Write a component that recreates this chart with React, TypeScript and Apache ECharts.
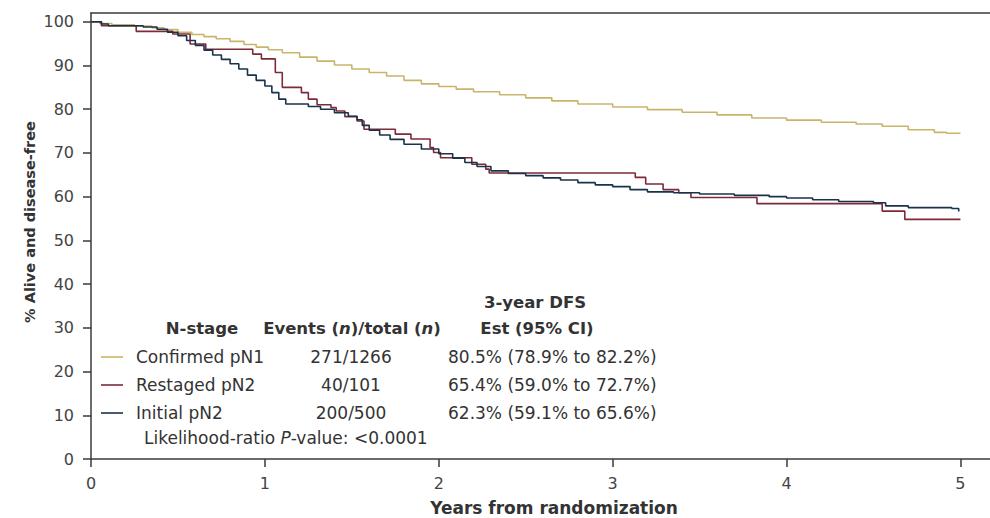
import { useEffect, useRef } from "react";
import * as echarts from "echarts";

// Kaplan–Meier disease-free survival by N-stage (years from randomization, % alive and disease-free)
const yearTicks = [0, 1, 2, 3, 4, 5];
const pctTicks = [0, 10, 20, 30, 40, 50, 60, 70, 80, 90, 100];

const confirmedTimes = [0, 0.05, 0.12, 0.25, 0.35, 0.42, 0.5, 0.58, 0.65, 0.72, 0.8, 0.88, 0.95, 1.02, 1.1, 1.2, 1.3, 1.4, 1.5, 1.6, 1.7, 1.8, 1.9, 2.0, 2.1, 2.2, 2.35, 2.5, 2.65, 2.8, 3.0, 3.2, 3.4, 3.6, 3.8, 4.0, 4.2, 4.4, 4.55, 4.7, 4.85, 4.92, 5.0];
const confirmedSurv = [100, 99.6, 99.3, 99.0, 98.6, 98.2, 97.6, 97.1, 96.6, 96.1, 95.5, 94.8, 94.2, 93.6, 92.9, 91.9, 91.0, 90.1, 89.2, 88.4, 87.6, 86.6, 85.8, 85.2, 84.6, 84.0, 83.3, 82.6, 81.9, 81.2, 80.5, 79.9, 79.3, 78.7, 78.0, 77.5, 77.0, 76.6, 76.1, 75.3, 74.7, 74.5, 74.5];

const restagedTimes = [0, 0.06, 0.26, 0.47, 0.57, 0.66, 0.93, 0.98, 1.06, 1.1, 1.21, 1.25, 1.3, 1.38, 1.41, 1.46, 1.53, 1.57, 1.75, 1.84, 1.95, 1.97, 2.01, 2.19, 2.27, 2.29, 3.13, 3.19, 3.29, 3.38, 3.45, 3.83, 4.55, 4.68, 5.0];
const restagedSurv = [100, 99.1, 97.8, 97.2, 94.9, 93.7, 92.6, 91.5, 88.4, 85.0, 83.8, 82.3, 81.0, 80.4, 79.6, 78.3, 77.3, 75.4, 74.3, 73.2, 71.2, 70.1, 68.9, 67.4, 66.3, 65.4, 64.4, 62.9, 61.6, 60.9, 59.8, 58.4, 56.7, 54.8, 54.8];

const initialTimes = [0, 0.06, 0.1, 0.3, 0.38, 0.44, 0.5, 0.55, 0.6, 0.65, 0.7, 0.75, 0.8, 0.85, 0.9, 0.95, 1.0, 1.04, 1.08, 1.12, 1.25, 1.32, 1.4, 1.48, 1.53, 1.56, 1.6, 1.66, 1.72, 1.8, 1.9, 2.0, 2.08, 2.15, 2.22, 2.3, 2.4, 2.5, 2.6, 2.7, 2.8, 2.9, 3.0, 3.1, 3.2, 3.35, 3.5, 3.7, 3.9, 4.0, 4.15, 4.3, 4.5, 4.57, 4.7, 4.95, 4.99];
const initialSurv = [100, 99.5, 99.1, 98.8, 98.3, 97.6, 96.8, 95.7, 94.6, 93.5, 92.4, 91.4, 90.4, 89.2, 87.8, 86.6, 85.3, 83.8, 82.3, 81.2, 80.6, 80.0, 79.2, 78.4, 77.6, 76.3, 75.2, 74.1, 73.1, 72.0, 70.9, 69.8, 68.8, 67.8, 66.9, 65.9, 65.3, 64.8, 64.3, 63.8, 63.2, 62.7, 62.3, 61.6, 61.1, 60.9, 60.6, 60.3, 60.0, 59.7, 59.3, 58.9, 58.6, 57.9, 57.5, 57.3, 56.6];

const groupNames = ["Confirmed pN1", "Restaged pN2", "Initial pN2"];
const groupEvents = ["271/1266", "40/101", "200/500"];
const groupDfs = ["80.5% (78.9% to 82.2%)", "65.4% (59.0% to 72.7%)", "62.3% (59.1% to 65.6%)"];
const groupColors = ["#c9b56a", "#7e2a39", "#18334a"];

const FONT = "DejaVu Sans";
const TEXT = "#333333";
const AXIS = "#3a3a3a";

function pairs(t: number[], s: number[]) {
  return t.map((v, i) => [v, s[i]]);
}

export default function App() {
  const ref = useRef<HTMLDivElement>(null);

  useEffect(() => {
    if (!ref.current) return;
    const chart = echarts.init(ref.current, undefined, { renderer: "svg" });

    const rowY = [357, 385, 413];
    const legend: any[] = [];
    const txt = (x: number, y: number, text: string, size: number, bold: boolean, align: string, extra: any = {}) => ({
      type: "text",
      x,
      y,
      silent: true,
      style: {
        text,
        fontFamily: FONT,
        fontSize: size,
        fontWeight: bold ? "bold" : "normal",
        fill: TEXT,
        align,
        textAlign: align,
        verticalAlign: "middle",
        textVerticalAlign: "middle",
        ...extra,
      },
    });

    legend.push(txt(535, 302, "3-year DFS", 16.5, true, "center"));
    legend.push(txt(202, 328, "N-stage", 16.5, true, "center"));
    legend.push(
      txt(352, 328, "{b|Events (}{bi|n}{b|)/total (}{bi|n}{b|)}", 16.5, true, "center", {
        rich: {
          b: { fontFamily: FONT, fontSize: 16.5, fontWeight: "bold", fill: TEXT },
          bi: { fontFamily: FONT, fontSize: 16.5, fontWeight: "bold", fontStyle: "italic", fill: TEXT },
        },
      })
    );
    legend.push(txt(537, 328, "Est (95% CI)", 16.5, true, "center"));

    groupNames.forEach((name, i) => {
      legend.push({
        type: "line",
        silent: true,
        shape: { x1: 101, y1: rowY[i], x2: 123, y2: rowY[i] },
        style: { stroke: groupColors[i], lineWidth: 1.6 },
      });
      legend.push(txt(136, rowY[i], name, 17, false, "left"));
      legend.push(txt(351, rowY[i], groupEvents[i], 17, false, "center"));
      legend.push(txt(448, rowY[i], groupDfs[i], 17, false, "left"));
    });

    legend.push(
      txt(144, 438, "{r|Likelihood-ratio }{i|P}{r|-value: <0.0001}", 17, false, "left", {
        rich: {
          r: { fontFamily: FONT, fontSize: 17, fill: TEXT },
          i: { fontFamily: FONT, fontSize: 17, fontStyle: "italic", fill: TEXT },
        },
      })
    );

    // axis titles
    legend.push({
      type: "text",
      x: 30,
      y: 222,
      rotation: Math.PI / 2,
      silent: true,
      style: {
        text: "% Alive and disease-free",
        fontFamily: FONT,
        fontSize: 14.5,
        fontWeight: "bold",
        fill: TEXT,
        align: "center",
        textAlign: "center",
        verticalAlign: "middle",
        textVerticalAlign: "middle",
      },
    });
    legend.push(txt(554, 508, "Years from randomization", 17, true, "center"));

    const axisLineStyle = { color: AXIS, width: 1.5 };

    chart.setOption({
      animation: false,
      backgroundColor: "#ffffff",
      grid: { left: 91, right: 0, top: 13, bottom: 59, containLabel: false },
      xAxis: [
        {
          type: "value",
          min: 0,
          max: 5.17,
          interval: 1,
          position: "bottom",
          axisLine: { show: true, onZero: false, lineStyle: axisLineStyle },
          axisTick: { show: true, length: 8, customValues: yearTicks, lineStyle: axisLineStyle },
          axisLabel: {
            customValues: yearTicks,
            margin: 16,
            fontFamily: FONT,
            fontSize: 16,
            color: "#444444",
            formatter: (v: number) => (Number.isInteger(v) && v <= 5 ? String(v) : ""),
          },
          splitLine: { show: false },
        },
        {
          type: "value",
          min: 0,
          max: 5.17,
          position: "top",
          axisLine: { show: true, onZero: false, lineStyle: axisLineStyle },
          axisTick: { show: false },
          axisLabel: { show: false },
          splitLine: { show: false },
        },
      ],
      yAxis: {
        type: "value",
        min: 0,
        max: 102,
        interval: 10,
        axisLine: { show: true, onZero: false, lineStyle: axisLineStyle },
        axisTick: { show: true, length: 8, customValues: pctTicks, lineStyle: axisLineStyle },
        axisLabel: {
          customValues: pctTicks,
          margin: 17,
          fontFamily: FONT,
          fontSize: 16,
          color: "#444444",
          formatter: (v: number) => (v % 10 === 0 && v <= 100 ? String(v) : ""),
        },
        splitLine: { show: false },
      },
      series: [
        { name: groupNames[0], data: pairs(confirmedTimes, confirmedSurv), color: groupColors[0] },
        { name: groupNames[1], data: pairs(restagedTimes, restagedSurv), color: groupColors[1] },
        { name: groupNames[2], data: pairs(initialTimes, initialSurv), color: groupColors[2] },
      ].map((s) => ({
        type: "line",
        name: s.name,
        xAxisIndex: 0,
        step: "end",
        showSymbol: false,
        symbol: "none",
        silent: true,
        data: s.data,
        lineStyle: { color: s.color, width: 1.6 },
        itemStyle: { color: s.color },
      })),
      graphic: legend,
    });

    return () => chart.dispose();
  }, []);

  return (
    <div
      ref={ref}
      style={{ position: "fixed", left: 0, top: 0, width: 990, height: 518, background: "#fff" }}
    />
  );
}
